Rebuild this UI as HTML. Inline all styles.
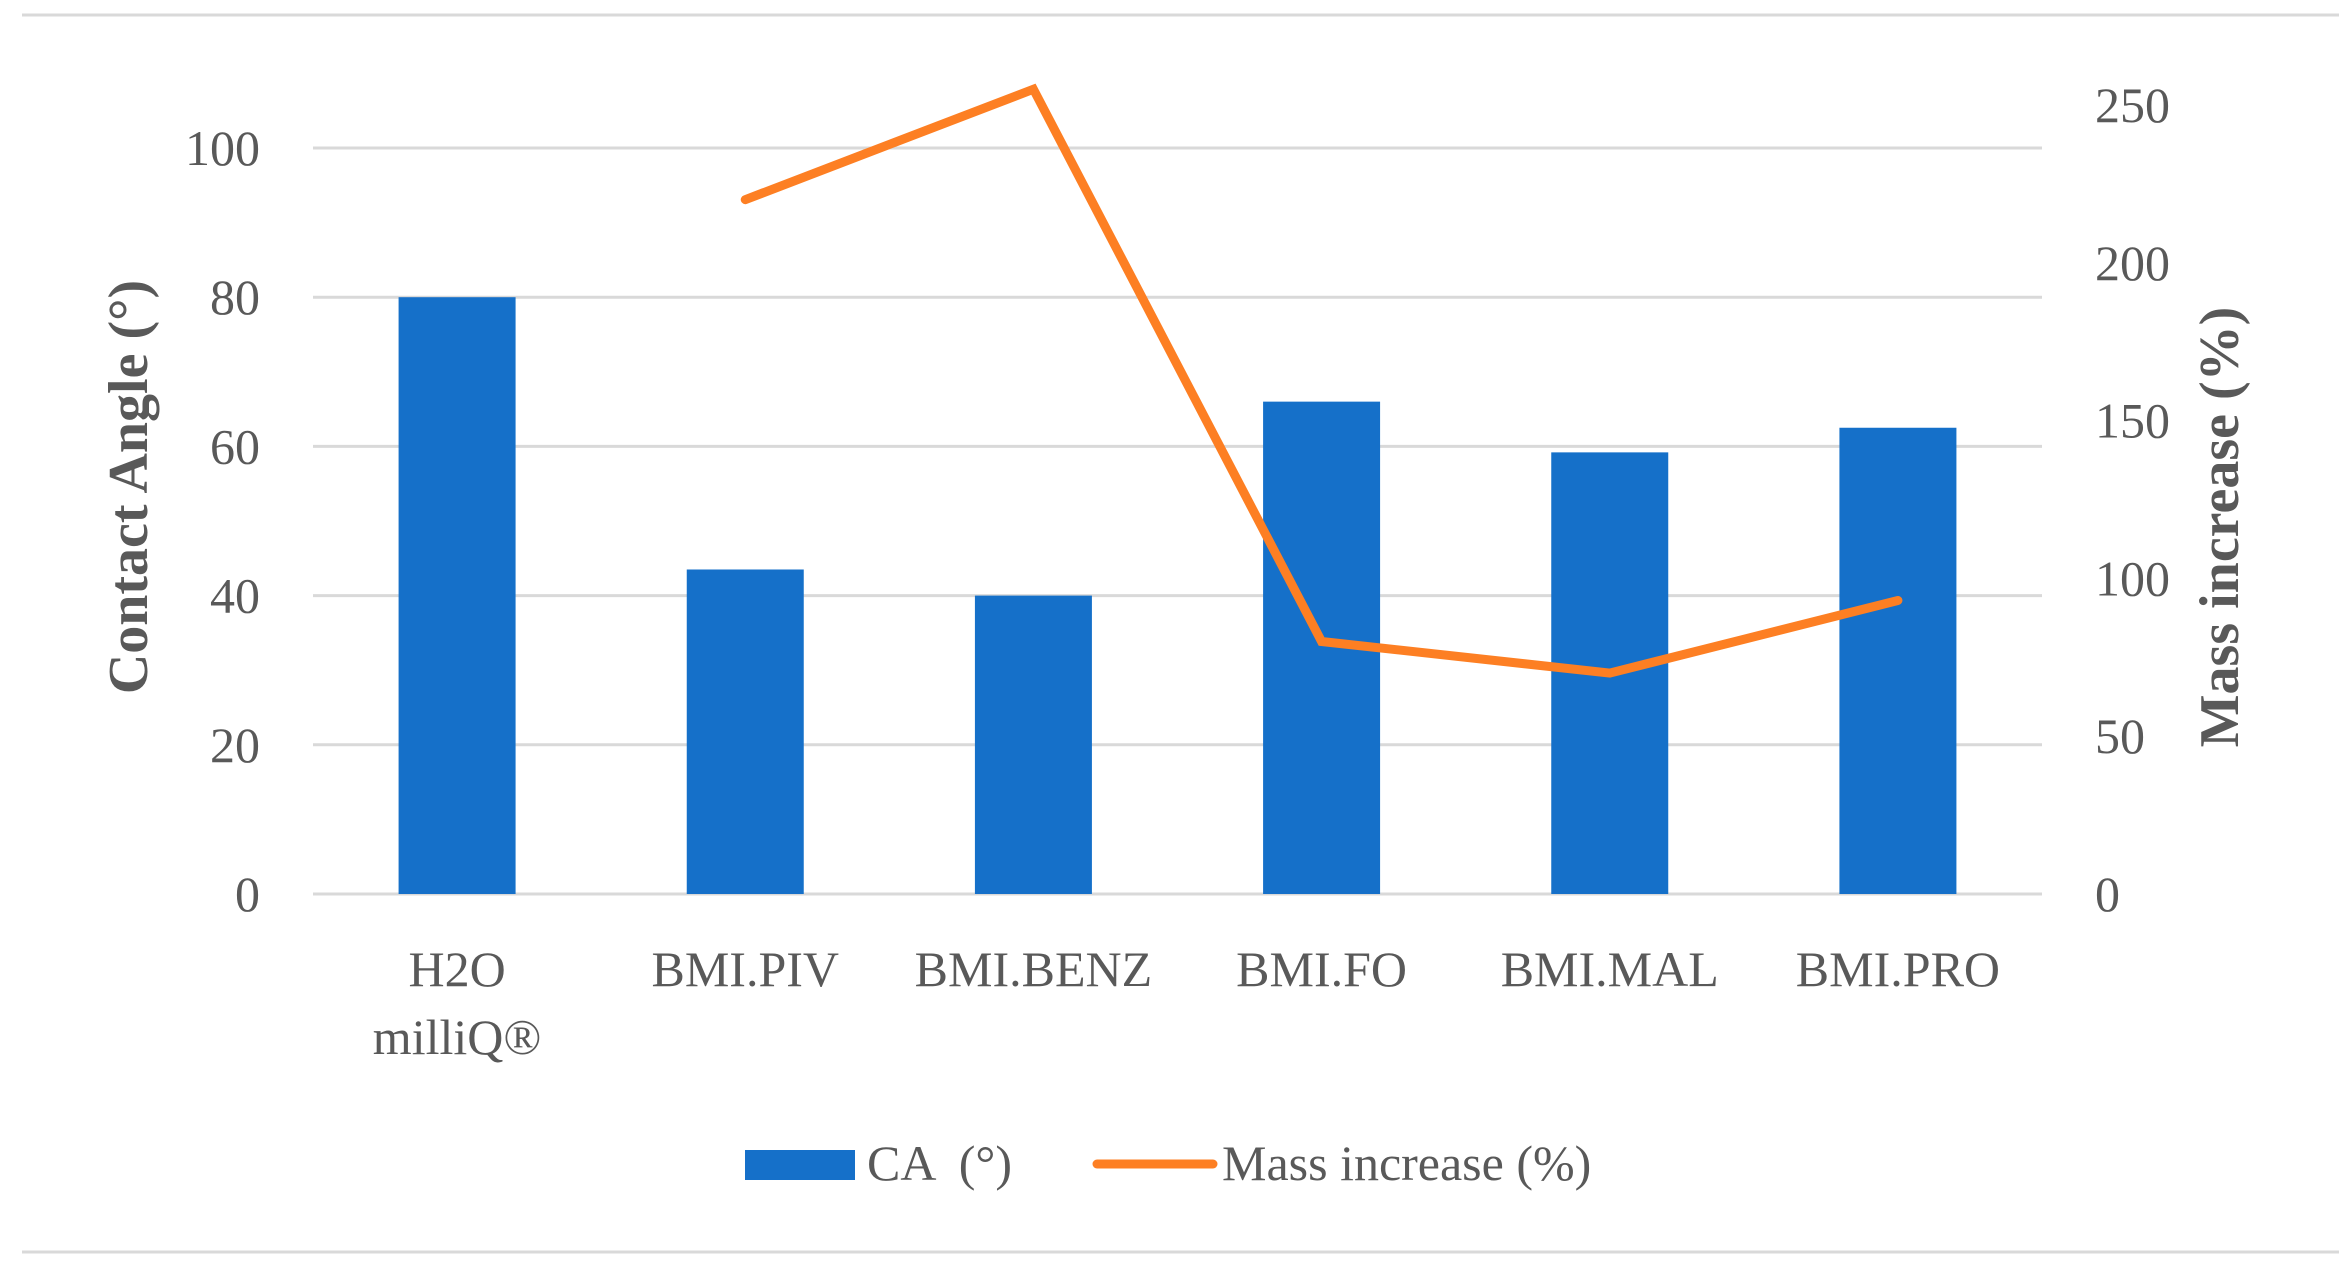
<!DOCTYPE html>
<html><head><meta charset="utf-8"><style>
html,body{margin:0;padding:0;background:#fff}
svg{display:block}
text{font-family:"Liberation Serif",serif;fill:#595959}
</style></head><body>
<svg id="chart" width="2339" height="1266" viewBox="0 0 2339 1266" xmlns="http://www.w3.org/2000/svg">
<line x1="22" y1="15" x2="2339" y2="15" stroke="#d9d9d9" stroke-width="3"/>
<line x1="22" y1="1252" x2="2339" y2="1252" stroke="#d9d9d9" stroke-width="3"/>
<g id="grid"></g>
<g id="bars"></g>
<g id="line"></g>
<g id="labels"></g>
<text transform="translate(147,487) rotate(-90)" text-anchor="middle" font-size="56" font-weight="bold">Contact Angle (°)</text>
<text transform="translate(2238,527) rotate(-90)" text-anchor="middle" font-size="56" font-weight="bold">Mass increase (%)</text>
<g>
<rect x="745" y="1150" width="110" height="30" fill="#1570c9"/>
<text x="867" y="1180" font-size="50" xml:space="preserve">CA  (°)</text>
<line x1="1097" y1="1164" x2="1213" y2="1164" stroke="#fd7f23" stroke-width="9" stroke-linecap="round"/>
<text x="1222" y="1180" font-size="50">Mass increase (%)</text>
</g>
</svg>
<script>
const categories = ["H2O milliQ®","BMI.PIV","BMI.BENZ","BMI.FO","BMI.MAL","BMI.PRO"];
const caValues = [80, 43.5, 40, 66, 59.2, 62.5];
const massValues = [null, 220, 255, 80, 70, 93];
const leftTicks = [0,20,40,60,80,100];
const rightTicks = [0,50,100,150,200,250];

const NS = "http://www.w3.org/2000/svg";
const plotL = 313, plotR = 2042, y0 = 894;
const yL = v => y0 - v * 7.46;
const yR = v => y0 - v * (789 / 250);
const band = (plotR - plotL) / categories.length;
const xC = i => plotL + band * (i + 0.5);
function mk(tag, attrs, parent){const e=document.createElementNS(NS,tag);for(const k in attrs)e.setAttribute(k,attrs[k]);parent.appendChild(e);return e;}
const grid=document.getElementById('grid'), bars=document.getElementById('bars'), lineG=document.getElementById('line'), labels=document.getElementById('labels');

leftTicks.forEach(t=>{
  const l=mk('line',{x1:plotL,x2:plotR,y1:yL(t),y2:yL(t),stroke:'#d9d9d9','stroke-width':3},grid);
  
  
  const tx=mk('text',{x:260,y:yL(t),'text-anchor':'end','dominant-baseline':'central','font-size':50},labels);
  tx.textContent=t;
  
  
});
rightTicks.forEach(t=>{
  const tx=mk('text',{x:2095,y:yR(t),'text-anchor':'start','dominant-baseline':'central','font-size':50},labels);
  tx.textContent=t;
  
  
});
const bw=117;
caValues.forEach((v,i)=>{
  const r=mk('rect',{x:xC(i)-bw/2,y:yL(v),width:bw,height:y0-yL(v),fill:'#1570c9'},bars);
  
  
});
let d='';
massValues.forEach((v,i)=>{ if(v==null) return; d += (d?'L':'M') + xC(i) + ' ' + yR(v) + ' '; });
const p=mk('path',{d:d,fill:'none',stroke:'#fd7f23','stroke-width':9,'stroke-linejoin':'miter','stroke-linecap':'round'},lineG);


categories.forEach((c,i)=>{
  const parts=c.split(' ');
  parts.forEach((s,j)=>{
    const tx=mk('text',{x:xC(i),y:986+j*68,'text-anchor':'middle','font-size':50},labels);
    tx.textContent=s;
    
    
  });
});
</script>
</body></html>
